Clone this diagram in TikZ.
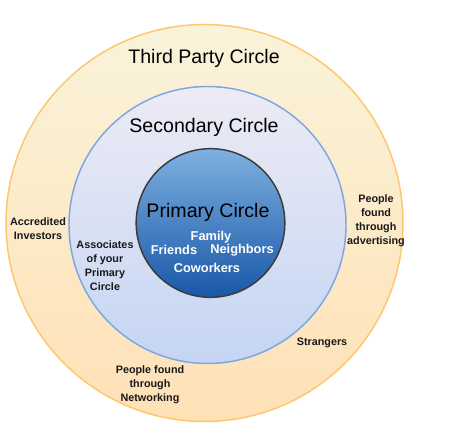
\documentclass[tikz,border=0pt]{standalone}
\usepackage{fontspec}
\setmainfont{Liberation Sans}
\definecolor{outtop}{HTML}{F9F3DA}
\definecolor{outbot}{HTML}{FFE1B6}
\definecolor{outline}{HTML}{FFC670}
\definecolor{sectop}{HTML}{EDEBF5}
\definecolor{secbot}{HTML}{C4D5F3}
\definecolor{secline}{HTML}{7EA6E0}
\definecolor{pritop}{HTML}{7EB1E0}
\definecolor{pribot}{HTML}{1957A8}
\definecolor{priline}{HTML}{3A3A3A}
\begin{document}
\begin{tikzpicture}[x=0.75pt,y=-0.75pt,
  ring/.style={circle,inner sep=0pt,outer sep=0pt},
  title/.style={font=\fontsize{14.7}{17}\selectfont,text=black},
  lbl/.style={font=\bfseries\fontsize{8.1}{10.6}\selectfont,align=center,text=black!90,inner sep=0pt},
  wlbl/.style={font=\bfseries\fontsize{9.6}{11}\selectfont,text=white,inner sep=0pt}]
\useasboundingbox (0,0) rectangle (463,442);
\node[ring,minimum size=297.75pt,draw=outline,line width=1.1pt,top color=outtop,bottom color=outbot] (outer) at (204.5,223) {};
\node[ring,minimum size=207.75pt,draw=secline,line width=1.1pt,top color=sectop,bottom color=secbot] (second) at (207.5,225) {};
\node[ring,minimum size=111.5pt,draw=priline,line width=1.1pt,top color=pritop,bottom color=pribot] (primary) at (210.5,223) {};
\node[title] (ttl3) at (204,58) {Third Party Circle};
\node[title] (ttl2) at (204,127) {Secondary Circle};
\node[title] (ttl1) at (208,212) {Primary Circle};
\node[wlbl] (family) at (211,237) {Family};
\node[wlbl] (friends) at (174,250) {Friends};
\node[wlbl] (neigh) at (242,250) {Neighbors};
\node[wlbl] (cowork) at (207,268) {Coworkers};
\node[lbl] (accred) at (38,229) {Accredited\\Investors};
\node[lbl] (assoc) at (105,265.5) {Associates\\of your\\Primary\\Circle};
\node[lbl] (advert) at (376,220.5) {People\\found\\through\\advertising};
\node[lbl] (strang) at (322,343) {Strangers};
\node[lbl] (netw) at (150,384.5) {People found\\through\\Networking};
\end{tikzpicture}
\end{document}
